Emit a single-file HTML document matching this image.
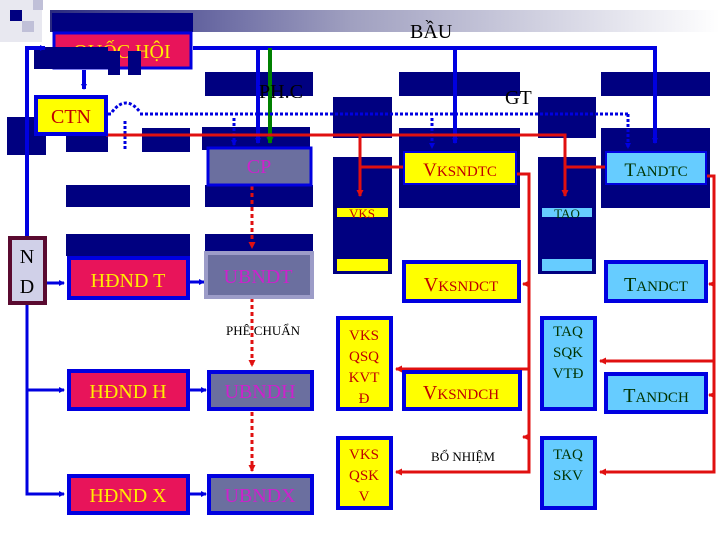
<!DOCTYPE html>
<html><head><meta charset="utf-8"><style>
html,body{margin:0;padding:0;background:#fff;}
svg{display:block;}
text{font-family:"Liberation Serif",serif;}
</style></head><body>
<svg width="720" height="540" viewBox="0 0 720 540" xmlns="http://www.w3.org/2000/svg">
<defs>
<linearGradient id="g" x1="0" x2="1" y1="0" y2="0">
<stop offset="0" stop-color="#2a2a80"/><stop offset="0.45" stop-color="#a0a0c0"/><stop offset="1" stop-color="#ffffff"/>
</linearGradient>
<marker id="ab" markerWidth="6" markerHeight="6" refX="5" refY="3" orient="auto" markerUnits="userSpaceOnUse"><path d="M0,0 L6,3 L0,6z" fill="#0000e0"/></marker>
<marker id="ar" markerWidth="7" markerHeight="7" refX="6" refY="3.5" orient="auto" markerUnits="userSpaceOnUse"><path d="M0,0 L7,3.5 L0,7z" fill="#e01010"/></marker>
<marker id="ag" markerWidth="7" markerHeight="7" refX="6" refY="3.5" orient="auto" markerUnits="userSpaceOnUse"><path d="M0,0 L7,3.5 L0,7z" fill="#008000"/></marker>
</defs>
<!-- top decoration -->
<rect x="50" y="10" width="670" height="22" fill="url(#g)"/>
<rect x="0" y="0" width="42" height="42" fill="#e8e8f0"/>
<rect x="10" y="10" width="12" height="11" fill="#000080"/>
<rect x="22" y="21" width="12" height="11" fill="#c0c0d8"/>
<rect x="33" y="0" width="10" height="10" fill="#c0c0d8"/>
<!-- navy blocks -->
<g fill="#000080">
<rect x="52" y="13" width="141" height="19"/>
<rect x="205" y="72" width="108" height="24"/>
<rect x="399" y="72" width="121" height="24"/>
<rect x="601" y="72" width="109" height="24"/>
<rect x="7" y="117" width="39" height="38"/>
<rect x="66" y="128" width="42" height="24"/>
<rect x="142" y="128" width="48" height="24"/>
<rect x="202" y="127" width="108" height="23"/>
<rect x="333" y="97" width="59" height="41"/>
<rect x="538" y="97" width="58" height="41"/>
<rect x="399" y="128" width="121" height="80"/>
<rect x="601" y="128" width="109" height="80"/>
<rect x="205" y="185" width="108" height="22"/>
<rect x="66" y="185" width="124" height="22"/>
<rect x="66" y="234" width="124" height="22"/>
<rect x="205" y="234" width="108" height="22"/>
<rect x="333" y="157" width="59" height="117"/>
<rect x="538" y="157" width="58" height="117"/>
</g>
<rect x="337" y="208" width="51" height="9" fill="#ffff00"/>
<text x="362" y="218" font-size="13" fill="#c00000" text-anchor="middle">VKS</text>
<rect x="337" y="259" width="51" height="12" fill="#ffff00"/>
<rect x="542" y="208" width="50" height="9" fill="#66ccff"/>
<text x="567" y="218" font-size="13" fill="#003300" text-anchor="middle">TAO</text>
<rect x="542" y="259" width="50" height="12" fill="#66ccff"/>

<!-- QUOC HOI -->
<rect x="54" y="33" width="137" height="35" fill="#e8145a" stroke="#0000e0" stroke-width="3"/>
<text x="122" y="58" font-size="20" fill="#ffee00" text-anchor="middle">QUỐC HỘI</text>
<rect x="34" y="47" width="74" height="22" fill="#000080"/>
<rect x="108" y="51" width="12" height="24" fill="#000080"/>
<rect x="128" y="51" width="13" height="24" fill="#000080"/>

<!-- lines -->
<g fill="none" stroke-width="4">
<polyline points="27,236 27,48 45,48" stroke="#0000e0" marker-end="url(#ab)"/>
<polyline points="193,48 655,48 655,143" stroke="#0000e0" marker-end="url(#ab)"/>
<line x1="455" y1="48" x2="455" y2="143" stroke="#0000e0" marker-end="url(#ab)"/>
<line x1="258" y1="48" x2="258" y2="143" stroke="#0000e0" marker-end="url(#ab)"/>
<line x1="270" y1="48" x2="270" y2="143" stroke="#008000" marker-end="url(#ag)"/>
<line x1="84" y1="70" x2="84" y2="89" stroke="#0000e0" marker-end="url(#ab)"/>
<polyline points="27,305 27,494 64,494" stroke="#0000e0" stroke-width="3" marker-end="url(#ab)"/>
<line x1="27" y1="390" x2="64" y2="390" stroke="#0000e0" stroke-width="3" marker-end="url(#ab)"/>
<line x1="47" y1="283" x2="64" y2="283" stroke="#0000e0" stroke-width="3" marker-end="url(#ab)"/>
<line x1="190" y1="282" x2="204" y2="282" stroke="#0000e0" stroke-width="3" marker-end="url(#ab)"/>
<line x1="190" y1="390" x2="206" y2="390" stroke="#0000e0" stroke-width="3" marker-end="url(#ab)"/>
<line x1="190" y1="494" x2="206" y2="494" stroke="#0000e0" stroke-width="3" marker-end="url(#ab)"/>
</g>
<g fill="none" stroke="#0000e0" stroke-width="3" stroke-dasharray="3,2">
<line x1="140" y1="114" x2="628" y2="114"/>
<line x1="108" y1="114" x2="112" y2="114"/>
<path d="M112,112 Q126,94 140,112"/>
<line x1="125" y1="121" x2="125" y2="151"/>
<line x1="234" y1="118" x2="234" y2="145" marker-end="url(#ab)"/>
<line x1="432" y1="118" x2="432" y2="148" marker-end="url(#ab)"/>
<line x1="628" y1="114" x2="628" y2="148" marker-end="url(#ab)"/>
</g>
<g fill="none" stroke="#e01010" stroke-width="3">
<polyline points="106,135 565,135 565,196" marker-end="url(#ar)"/>
<line x1="360" y1="135" x2="360" y2="196" marker-end="url(#ar)"/>
<line x1="360" y1="167" x2="403" y2="167"/>
<line x1="565" y1="167" x2="605" y2="167"/>
<polyline points="517,174 529,174 529,472 396,472" marker-end="url(#ar)"/>
<line x1="529" y1="369" x2="396" y2="369" marker-end="url(#ar)"/>
<line x1="529" y1="284" x2="523" y2="284" marker-end="url(#ar)"/>
<line x1="529" y1="437" x2="523" y2="437" marker-end="url(#ar)"/>
<polyline points="706,176 714,176 714,472 600,472" marker-end="url(#ar)"/>
<line x1="714" y1="361" x2="600" y2="361" marker-end="url(#ar)"/>
<line x1="714" y1="284" x2="709" y2="284" marker-end="url(#ar)"/>
<line x1="714" y1="395" x2="709" y2="395" marker-end="url(#ar)"/>
</g>
<g fill="none" stroke="#e01010" stroke-width="3" stroke-dasharray="4,3">
<line x1="252" y1="186" x2="252" y2="248" marker-end="url(#ar)"/>
<line x1="252" y1="298" x2="252" y2="366" marker-end="url(#ar)"/>
<line x1="252" y1="412" x2="252" y2="471" marker-end="url(#ar)"/>
</g>

<!-- boxes -->
<rect x="36" y="97" width="70" height="37" fill="#ffff00" stroke="#0000e0" stroke-width="4"/>
<text x="71" y="123" font-size="20" fill="#c00000" text-anchor="middle">CTN</text>
<rect x="208" y="148" width="103" height="37" fill="#6b6f9f" stroke="#0000e0" stroke-width="3"/>
<text x="259" y="173" font-size="20" fill="#cc22cc" text-anchor="middle">CP</text>
<rect x="404" y="152" width="112" height="32" fill="#ffff00" stroke="#0000e0" stroke-width="2"/>
<text x="460" y="176" font-size="19" fill="#c00000" text-anchor="middle">V<tspan font-size="15">KSNDTC</tspan></text>
<rect x="606" y="152" width="100" height="32" fill="#66ccff" stroke="#0000e0" stroke-width="2"/>
<text x="656" y="176" font-size="19" fill="#003300" text-anchor="middle">T<tspan font-size="15">ANDTC</tspan></text>

<rect x="10" y="238" width="35" height="65" fill="#d0d0e8" stroke="#5a0a30" stroke-width="4"/>
<text x="27" y="263" font-size="20" fill="#000" text-anchor="middle">N</text>
<text x="27" y="293" font-size="20" fill="#000" text-anchor="middle">D</text>

<g stroke="#0000e0" stroke-width="4">
<rect x="69" y="258" width="119" height="40" fill="#e8145a"/>
<rect x="69" y="371" width="119" height="38" fill="#e8145a"/>
<rect x="69" y="476" width="119" height="37" fill="#e8145a"/>
<rect x="209" y="372" width="103" height="37" fill="#6b6f9f"/>
<rect x="209" y="476" width="103" height="37" fill="#6b6f9f"/>
<rect x="404" y="262" width="115" height="39" fill="#ffff00"/>
<rect x="606" y="262" width="100" height="39" fill="#66ccff"/>
<rect x="338" y="318" width="53" height="91" fill="#ffff00"/>
<rect x="542" y="318" width="53" height="91" fill="#66ccff"/>
<rect x="404" y="372" width="116" height="37" fill="#ffff00"/>
<rect x="606" y="374" width="100" height="38" fill="#66ccff"/>
<rect x="338" y="438" width="53" height="70" fill="#ffff00"/>
<rect x="542" y="438" width="53" height="70" fill="#66ccff"/>
</g>
<rect x="206" y="253" width="106" height="44" fill="#6b6f9f" stroke="#9c9cc8" stroke-width="4"/>

<g font-size="20" text-anchor="middle">
<text x="128" y="287" fill="#ffee00">HĐND T</text>
<text x="128" y="398" fill="#ffee00">HĐND H</text>
<text x="128" y="502" fill="#ffee00">HĐND X</text>
<text x="258" y="283" fill="#cc22cc">UBNDT</text>
<text x="260" y="398" fill="#cc22cc">UBNDH</text>
<text x="260" y="502" fill="#cc22cc">UBNDX</text>
<text x="461" y="291" fill="#c00000">V<tspan font-size="15">KSNDCT</tspan></text>
<text x="461" y="399" fill="#c00000">V<tspan font-size="15">KSNDCH</tspan></text>
<text x="656" y="291" fill="#003300">T<tspan font-size="15">ANDCT</tspan></text>
<text x="656" y="402" fill="#003300">T<tspan font-size="15">ANDCH</tspan></text>
</g>
<g font-size="15" text-anchor="middle">
<text x="364" y="340" fill="#c00000">VKS</text>
<text x="364" y="361" fill="#c00000">QSQ</text>
<text x="364" y="382" fill="#c00000">KVT</text>
<text x="364" y="403" fill="#c00000">Đ</text>
<text x="364" y="459" fill="#c00000">VKS</text>
<text x="364" y="480" fill="#c00000">QSK</text>
<text x="364" y="501" fill="#c00000">V</text>
<text x="568" y="336" fill="#003300">TAQ</text>
<text x="568" y="357" fill="#003300">SQK</text>
<text x="568" y="378" fill="#003300">VTĐ</text>
<text x="568" y="459" fill="#003300">TAQ</text>
<text x="568" y="480" fill="#003300">SKV</text>
</g>
<g font-size="13" fill="#000" text-anchor="middle">
<text x="263" y="335">PHÊ CHUẨN</text>
<text x="463" y="461">BỔ NHIỆM</text>
</g>
<g font-size="20" fill="#000">
<text x="410" y="38">BẦU</text>
<text x="505" y="104">GT</text>
<text x="259" y="98">PH.C</text>
</g>
</svg>
</body></html>
